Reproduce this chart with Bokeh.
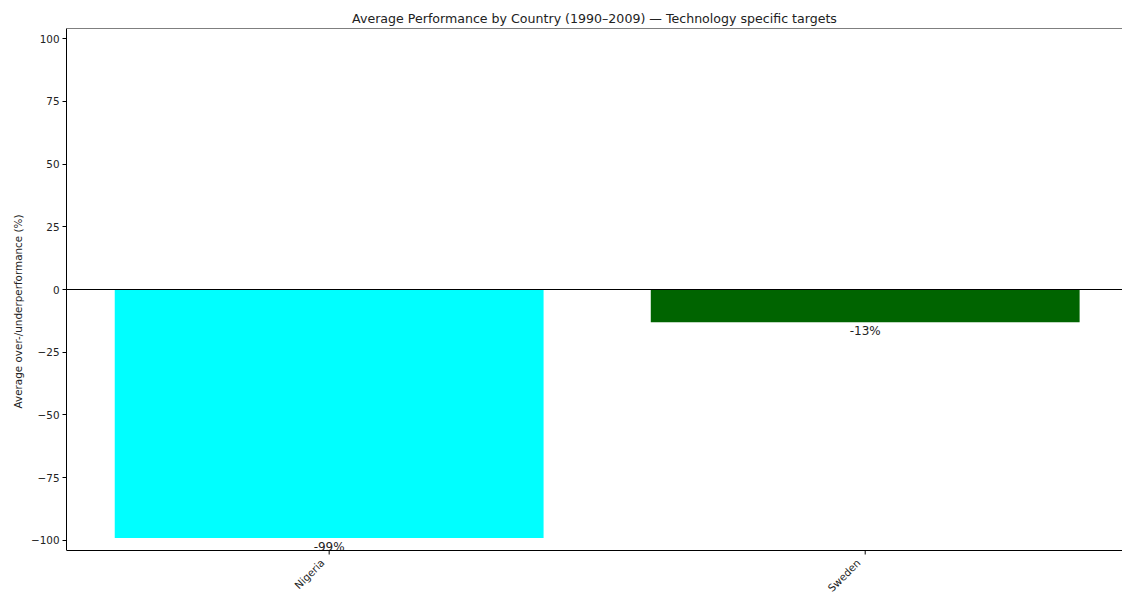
import math
from bokeh.plotting import figure
from bokeh.models import Range1d, FixedTicker, ColumnDataSource, Span
from bokeh.core.properties import value
from bokeh.embed import file_html
from bokeh.resources import INLINE

countries = ["Nigeria", "Sweden"]
performance = [-99.0, -13.0]
bar_colors = ["#00ffff", "#006400"]
y_ticks = [-100, -75, -50, -25, 0, 25, 50, 75, 100]

FONT = "DejaVu Sans"
Y0, Y1 = -104, 104          # visible axis span (matplotlib limits)
AXES_H = 522                # pixel height of the axes box
FRAME_H = 566               # frame height incl. room for the x tick labels
y_start = Y1 - (Y1 - Y0) * FRAME_H / AXES_H

xs = list(range(len(countries)))
labels = [f"{v:.0f}%" for v in performance]
src = ColumnDataSource(dict(x=xs, top=performance, color=bar_colors, label=labels,
                            name=countries, base=[Y0] * len(xs)))

p = figure(width=1122, height=594, output_backend="svg", toolbar_location=None,
           x_range=Range1d(-0.49, 1.48), y_range=Range1d(y_start, Y1),
           title="Average Performance by Country (1990\u20132009) \u2014 Technology specific targets",
           min_border_left=66, min_border_right=0, min_border_top=28, min_border_bottom=0,
           x_axis_type=None)

p.vbar(x="x", top="top", bottom=0, width=0.8, color="color", source=src, line_color=None)
p.text(x="x", y="top", text="label", source=src, text_align="center", text_baseline="top",
       y_offset=2, text_font=value(FONT), text_font_size="12px", text_color="#222222")

# bottom spine, ticks and tick labels
p.add_layout(Span(location=Y0, dimension="width", line_color="#000000", line_width=1))
p.ray(x="x", y="base", source=src, length=4, length_units="screen", angle=-math.pi / 2,
      line_color="#000000", line_width=1)
p.text(x="x", y="base", text="name", source=src, angle=math.pi / 4,
       text_align="right", text_baseline="top", x_offset=-11, y_offset=6,
       text_font=value(FONT), text_font_size="10.4px", text_color="#222222")

p.add_layout(Span(location=0, dimension="width", line_color="#000000", line_width=1))
p.add_layout(Span(location=Y1, dimension="width", line_color="#000000", line_width=1))

p.outline_line_color = None
p.grid.visible = False

p.title.text_font = FONT
p.title.text_font_size = "12.6px"
p.title.text_font_style = "normal"
p.title.align = "center"
p.title.text_color = "#222222"
p.title.standoff = 5

ax = p.yaxis[0]
ax.bounds = (Y0, Y1)
ax.ticker = FixedTicker(ticks=y_ticks)
ax.major_label_overrides = {t: (str(t).replace("-", "\u2212")) for t in y_ticks}
ax.axis_label = "Average over-/underperformance (%)"
ax.axis_line_color = "#000000"
ax.axis_line_width = 1
ax.major_tick_line_color = "#000000"
ax.major_tick_out = 4
ax.major_tick_in = 0
ax.minor_tick_line_color = None
ax.major_label_text_font = FONT
ax.major_label_text_font_size = "10.4px"
ax.major_label_text_color = "#222222"
ax.major_label_standoff = 3
ax.axis_label_text_font = FONT
ax.axis_label_text_font_size = "10.4px"
ax.axis_label_text_font_style = "normal"
ax.axis_label_text_color = "#222222"
ax.axis_label_standoff = 4

open("out.html", "w").write(file_html(p, INLINE))
